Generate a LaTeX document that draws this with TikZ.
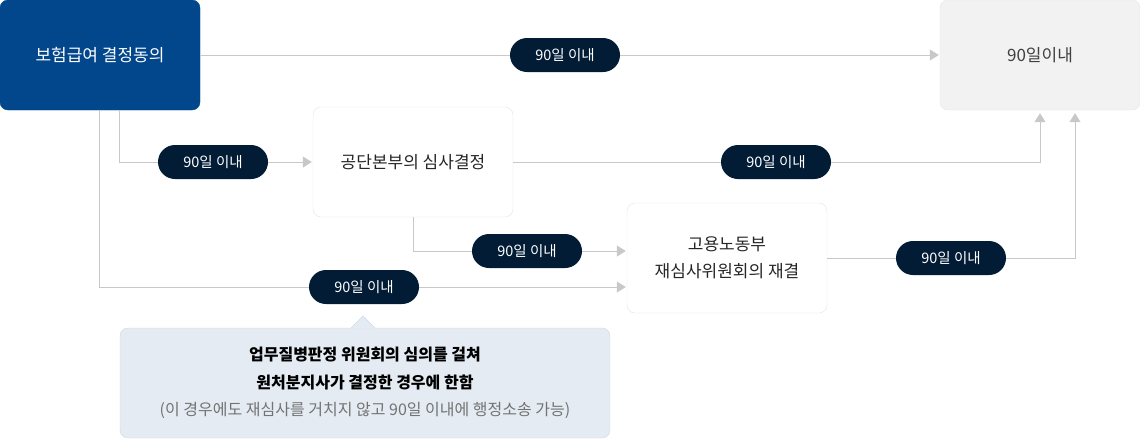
\documentclass[tikz,border=0pt]{standalone}
\usepackage{fontspec}
\setmainfont{Noto Sans CJK KR}
\usetikzlibrary{arrows.meta,positioning}

\definecolor{boxblue}{RGB}{2,70,140}
\definecolor{pillnavy}{RGB}{2,28,54}
\definecolor{linegray}{RGB}{200,200,200}
\definecolor{edgegray}{RGB}{228,228,228}
\definecolor{notefill}{RGB}{228,235,243}
\definecolor{noteedge}{RGB}{206,217,231}

\begin{document}
\begin{tikzpicture}[x=1pt,y=-1pt,
    stage/.style={draw=edgegray,fill=white,rounded corners=8pt,
      minimum width=200pt,minimum height=110pt,align=center,
      font=\fontsize{17}{27}\selectfont,text=black!85},
    pill/.style={fill=pillnavy,text=white,rounded corners=17pt,
      minimum width=110pt,minimum height=34pt,inner sep=0pt,
      font=\fontsize{14.5}{16}\selectfont},
    link/.style={draw=linegray,line width=1pt,
      -{Triangle[length=9pt,width=11pt]},shorten >=1pt}]
    \useasboundingbox (0,0) rectangle (1140,440);

    \node[stage,fill=boxblue,draw=boxblue,text=white] (benefit) at (100,55) {보험급여 결정동의};
    \node[stage,fill=black!5,text=black!75] (limit) at (1040,55) {90일이내};
    \node[stage] (review) at (413,162) {공단본부의 심사결정};
    \node[stage] (rereview) at (727,258) {고용노동부\\재심사위원회의 재결};

    % connectors
    \draw[link] (benefit.east) -- (limit.west);
    \draw[link] ([xshift=120pt]benefit.south west) |- (review.west);
    \draw[link] ([xshift=100pt]benefit.south west) |- ([yshift=-29pt]rereview.west);
    \draw[link] (review.south) |- ([yshift=7pt]rereview.west);
    \draw[link,shorten >=3pt] (review.east) -| (limit.south);
    \draw[link,shorten >=3pt] (rereview.east) -| ([xshift=35pt]limit.south);

    \node[pill] (t1) at (565,55) {90일 이내};
    \node[pill] (t2) at (213,162) {90일 이내};
    \node[pill] (t3) at (364,287) {90일 이내};
    \node[pill] (t4) at (776,162) {90일 이내};
    \node[pill] (t5) at (527,251) {90일 이내};
    \node[pill] (t6) at (951,258) {90일 이내};

    % note under the lower path
    \node[draw=noteedge,fill=notefill,rounded corners=8pt,minimum width=490pt,
      minimum height=110pt,align=center,font=\fontsize{16}{27.5}\selectfont]
      (cond) at (365,383)
      {\textbf{업무질병판정 위원회의 심의를 걸쳐}\\
       \textbf{원처분지사가 결정한 경우에 한함}\\
       {\color{black!55}(이 경우에도 재심사를 거치지 않고 90일 이내에 행정소송 가능)}};
    \fill[notefill] (351,328.6) -- (363,316) -- (375,328.6) -- cycle;
    \draw[noteedge] (351,328) -- (363,316) -- (375,328);
  \end{tikzpicture}
\end{document}
